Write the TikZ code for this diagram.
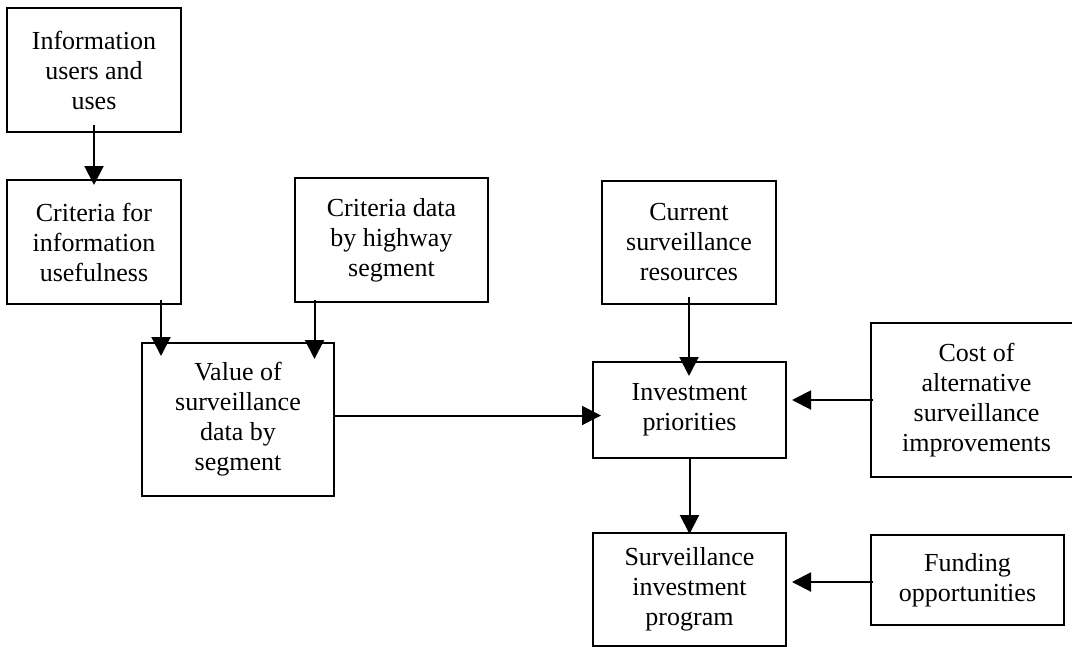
\documentclass[tikz,border=0pt]{standalone}
\usepackage{fontspec}
\setmainfont{Liberation Serif}
\usetikzlibrary{positioning, arrows.meta}

\begin{document}
\begin{tikzpicture}[
            x=1pt, y=-1pt,
            block/.style={
                rectangle,
                draw=black,
                line width=2pt,
                inner sep=0pt,
                align=center,
                font=\fontsize{26}{30}\selectfont
            },
            arrow/.style={
                -{Triangle[length=19pt, width=19pt]},
                line width=2pt
            }
        ]
            \useasboundingbox (0,0) rectangle (1072,646);

            \node [block, minimum width=174pt, minimum height=124pt] (users) at (94,70) {Information\\users and\\uses};
            \node [block, minimum width=174pt, minimum height=124pt, below=46pt of users] (criteria) {Criteria for\\information\\usefulness};
            \node [block, minimum width=193pt, minimum height=124pt] (critdata) at (391.5,240) {Criteria data\\by highway\\segment};
            \node [block, minimum width=192pt, minimum height=153pt] (value) at (238,419.5) {Value of\\surveillance\\data by\\segment};

            \node [block, minimum width=174pt, minimum height=123pt] (current) at (689,242.5) {Current\\surveillance\\resources};
            \node [block, minimum width=193pt, minimum height=96pt] (priorities) at (689.5,410) {Investment\\priorities};
            \node [block, minimum width=193pt, minimum height=113pt, below=73pt of priorities] (program) {Surveillance\\investment\\program};
            \node [block, minimum width=211pt, minimum height=154pt] (cost) at (976.5,400) {Cost of\\alternative\\surveillance\\improvements};
            \node [block, minimum width=193pt, minimum height=90pt] (funding) at (967.5,580) {Funding\\opportunities};

            \draw [arrow, shorten <=-8pt, shorten >=-6pt] (users.south) -- (criteria.north);
            \draw [arrow, shorten <=-5pt, shorten >=-14pt] ([xshift=67pt]criteria.south) -- ([xshift=67pt]criteria.south |- value.north);
            \draw [arrow, shorten <=-3pt, shorten >=-17pt] ([xshift=-77pt]critdata.south) -- ([xshift=-77pt]critdata.south |- value.north);
            \draw [arrow, shorten >=-9pt] ([yshift=4pt]value.east) -- ([yshift=4pt]value.east -| priorities.west);

            \draw [arrow, shorten <=-8pt, shorten >=-15pt] (current.south) -- (current.south |- priorities.north);
            \draw [arrow, shorten <=-3pt, shorten >=5pt] (cost.west) -- (cost.west -| priorities.east);
            \draw [arrow, shorten >=-2pt] (priorities.south) -- (program.north);
            \draw [arrow, shorten <=-3pt, shorten >=5pt] ([yshift=-2pt]funding.west) -- ([yshift=-2pt]funding.west -| program.east);

        \end{tikzpicture}
\end{document}
